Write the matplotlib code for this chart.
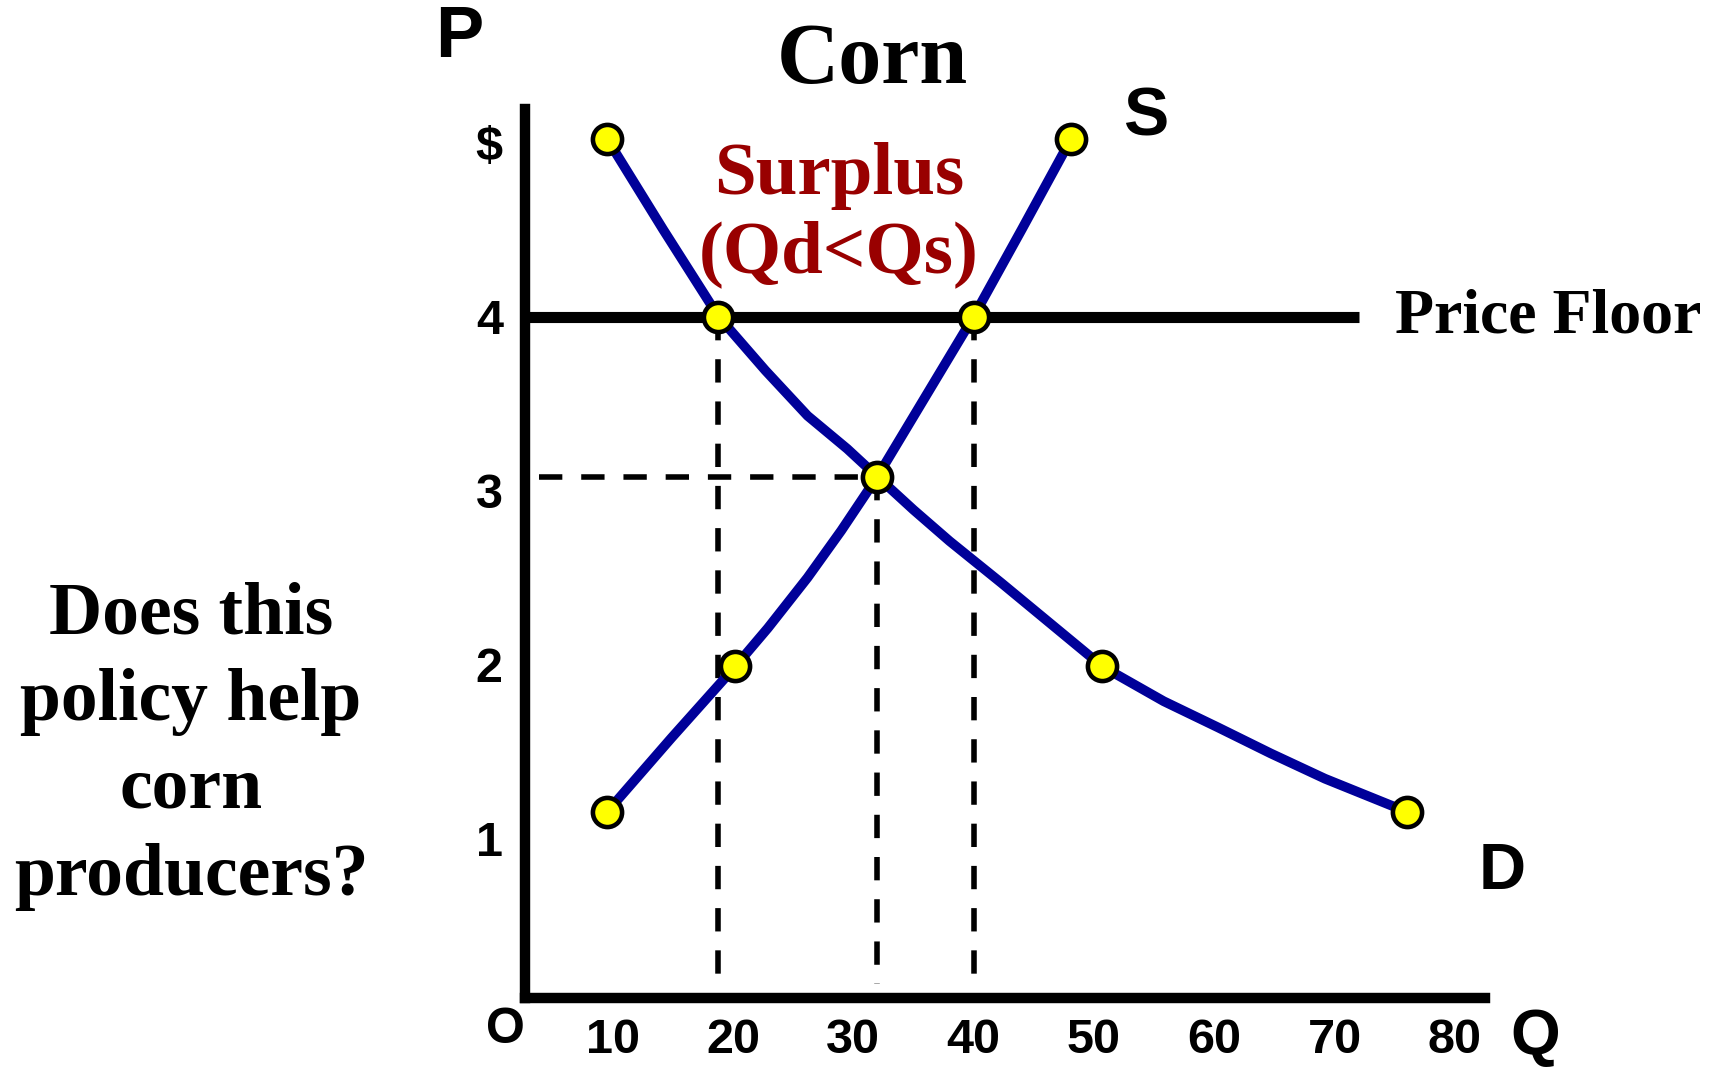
import matplotlib
matplotlib.use('Agg')
import matplotlib.pyplot as plt

# --- data (Q, P) ---
demand_q = [9.55, 14.2, 18.8, 22.7, 26.2, 29.5, 32.0, 35.0, 38.0, 42.3, 46.5, 50.7, 55.8, 60.3, 64.7, 69.2, 76.0]
demand_p = [5.02, 4.50, 4.00, 3.69, 3.43, 3.24, 3.08, 2.89, 2.71, 2.47, 2.23, 1.99, 1.79, 1.64, 1.49, 1.345, 1.155]
supply_q = [9.55, 14.9, 20.2, 22.9, 26.2, 29.0, 32.0, 36.0, 40.0, 44.0, 48.1]
supply_p = [1.155, 1.58, 1.99, 2.21, 2.50, 2.77, 3.08, 3.54, 4.00, 4.50, 5.02]

# marked points
demand_pts_q = [9.55, 18.8, 32.0, 50.7, 76.0]
demand_pts_p = [5.02, 4.00, 3.08, 1.99, 1.155]
supply_pts_q = [9.55, 20.2, 40.0, 48.1]
supply_pts_p = [1.155, 1.99, 4.00, 5.02]

price_floor = 4.0
floor_end_q = 72.0
eq_q, eq_p = 32.0, 3.08
qd_floor, qs_floor = 18.8, 40.0

x_ticks = [10, 20, 30, 40, 50, 60, 70, 80]
y_ticks = [1, 2, 3, 4, 5]
y_labels = ['1', '2', '3', '4', '$']

Q_MIN, Q_MAX = 2.72, 82.5
P_MIN, P_MAX = 0.088, 5.19

W, H = 1715, 1071
BLUE = '#000099'
RED = '#990000'
SERIF = 'Liberation Serif'
SANS = 'Liberation Sans'

fig = plt.figure(figsize=(W / 100, H / 100), dpi=100)
ax = fig.add_axes([525 / W, 1 - 997.5 / H, 960 / W, (997.5 - 109.4) / H])
ax.set_xlim(Q_MIN, Q_MAX)
ax.set_ylim(P_MIN, P_MAX)
for side in ['top', 'right']:
    ax.spines[side].set_visible(False)
for side in ['left', 'bottom']:
    ax.spines[side].set_linewidth(7.5)
    ax.spines[side].set_capstyle('projecting')

ax.set_xticks(x_ticks)
ax.set_xticklabels([str(v) for v in x_ticks])
ax.set_yticks(y_ticks)
ax.set_yticklabels(y_labels)
ax.tick_params(length=0, labelsize=35)
ax.tick_params(axis='x', pad=15)
ax.tick_params(axis='y', pad=16)
for lab in ax.get_xticklabels() + ax.get_yticklabels():
    lab.set_fontfamily(SANS)
    lab.set_fontweight('bold')

# dashed guide lines
dash_kw = dict(color='black', lw=4, dashes=(4.2, 3.4), clip_on=False, zorder=2)
ax.plot([qd_floor, qd_floor], [price_floor, 0.166], **dash_kw)
ax.plot([eq_q, eq_q], [eq_p, 0.166], **dash_kw)
ax.plot([qs_floor, qs_floor], [price_floor, 0.206], **dash_kw)
ax.plot([3.9, eq_q], [eq_p, eq_p], **dash_kw)

# price floor
ax.plot([Q_MIN, floor_end_q], [price_floor, price_floor], color='black', lw=8,
        solid_capstyle='butt', clip_on=False, zorder=3)

# curves
ax.plot(demand_q, demand_p, color=BLUE, lw=7, solid_joinstyle='round', clip_on=False, zorder=4)
ax.plot(supply_q, supply_p, color=BLUE, lw=7, solid_joinstyle='round', clip_on=False, zorder=4)

mk = dict(ls='none', marker='o', ms=21, mfc='#FFFF00', mec='black', mew=3.3, clip_on=False, zorder=5)
ax.plot(demand_pts_q, demand_pts_p, **mk)
ax.plot(supply_pts_q, supply_pts_p, **mk)


def ftext(x, y, s, **kw):
    fig.text(x / W, 1 - y / H, s, ha=kw.pop('ha', 'center'), va=kw.pop('va', 'center'), **kw)


ftext(459, 38, 'P', fontsize=52, fontweight='bold', family=SANS)
ftext(872, 62, 'Corn', fontsize=62, fontweight='bold', family=SERIF)
ftext(1146, 118, 'S', fontsize=49, fontweight='bold', family=SANS)
ftext(839, 176, 'Surplus', fontsize=54, fontweight='bold', family=SERIF, color=RED)
ftext(839, 254, '(Qd<Qs)', fontsize=54, fontweight='bold', family=SERIF, color=RED)
ftext(1395, 317, 'Price Floor', fontsize=46, fontweight='bold', family=SERIF, ha='left')
ftext(1502, 872, 'D', fontsize=47, fontweight='bold', family=SANS)
ftext(505, 1030, 'O', fontsize=36, fontweight='bold', family=SANS)
ftext(1535, 1055, 'Q', fontsize=46, fontweight='bold', family=SANS, va='baseline')
ftext(191, 746, 'Does this\npolicy help\ncorn\nproducers?', fontsize=53,
      fontweight='bold', family=SERIF, linespacing=1.37, multialignment='center')

fig.savefig('out.png', dpi=100)
